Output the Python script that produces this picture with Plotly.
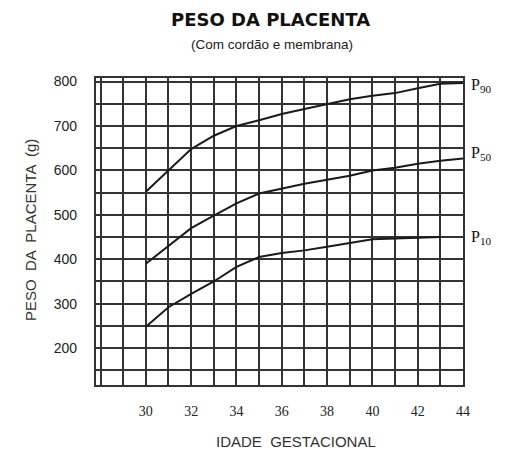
import plotly.graph_objects as go

weeks = [30, 31, 32, 33, 34, 35, 36, 37, 38, 39, 40, 41, 42, 43, 44]
p90 = [552, 600, 648, 678, 700, 713, 727, 738, 749, 760, 768, 774, 785, 795, 797]
p50 = [390, 431, 470, 498, 526, 548, 559, 570, 579, 588, 600, 606, 615, 622, 627]
weeks_p10 = [30, 31, 32, 33, 34, 35, 36, 37, 38, 39, 40, 41, 42, 43]
p10 = [248, 292, 322, 350, 383, 405, 414, 420, 428, 437, 445, 447, 448, 450]

x_ticks = [30, 32, 34, 36, 38, 40, 42, 44]
y_ticks = [200, 300, 400, 500, 600, 700, 800]
labels = [("P<sub>90</sub>", 792), ("P<sub>50</sub>", 638), ("P<sub>10</sub>", 449)]

fig = go.Figure()
for xs, ys in [(weeks, p90), (weeks, p50), (weeks_p10, p10)]:
    fig.add_trace(go.Scatter(x=xs, y=ys, mode="lines",
                             line=dict(color="#1a1a1a", width=2), showlegend=False,
                             hoverinfo="skip"))

grid = "#333333"
gw = 2.2
L, R, T, B = 96, 44, 78, 67
W, H = 507, 452
fig.update_layout(
    width=W, height=H,
    margin=dict(l=L, r=R, t=T, b=B),
    paper_bgcolor="white", plot_bgcolor="white",
    xaxis=dict(range=[27.8, 44], tickvals=x_ticks, showgrid=True,
               gridcolor=grid, gridwidth=gw,
               minor=dict(tick0=29, dtick=1, showgrid=True, gridcolor=grid, gridwidth=gw),
               showline=True, linecolor=grid, linewidth=gw, mirror=True,
               zeroline=False, ticks="", ticklabelstandoff=12,
               tickfont=dict(family="Liberation Serif, DejaVu Serif, serif", size=14, color="#222")),
    yaxis=dict(range=[117, 808], tickvals=y_ticks, showgrid=True,
               gridcolor=grid, gridwidth=gw,
               minor=dict(tick0=150, dtick=50, showgrid=True, gridcolor=grid, gridwidth=gw),
               showline=True, linecolor=grid, linewidth=gw, mirror=True,
               zeroline=False, ticks="", ticklabelstandoff=14,
               tickfont=dict(family="Liberation Sans, Arial, sans-serif", size=14, color="#222")),
)

ann = [
    dict(text="<b>PESO DA PLACENTA</b>", x=270, y=20,
         font=dict(family="DejaVu Sans, sans-serif", size=18, color="#111")),
    dict(text="(Com cordão e membrana)", x=272, y=45,
         font=dict(family="Liberation Sans, Arial, sans-serif", size=13.5, color="#222")),
    dict(text="IDADE  GESTACIONAL", x=296, y=441,
         font=dict(family="Liberation Sans, Arial, sans-serif", size=15, color="#333")),
    dict(text="PESO  DA  PLACENTA  (g)", x=30, y=230, textangle=-90,
         font=dict(family="Liberation Sans, Arial, sans-serif", size=15, color="#333")),
]
pw, ph = W - L - R, H - T - B
out = []
for a in ann:
    a = dict(a)
    a["x"] = (a["x"] - L) / pw
    a["y"] = 1 - (a["y"] - T) / ph
    a["xref"] = "paper"
    a["yref"] = "paper"
    a["xanchor"] = "center"
    a["yanchor"] = "middle"
    a["showarrow"] = False
    out.append(a)
for t, yv in labels:
    out.append(dict(text=t, x=1.0, xref="paper", y=yv, yref="y", xanchor="left",
                    yanchor="middle", xshift=6, showarrow=False,
                    font=dict(family="Liberation Serif, DejaVu Serif, serif", size=16, color="#111")))
fig.update_layout(annotations=out)

fig.write_html("out.html", config={"displayModeBar": False},
               post_script="document.body.style.margin='0';")
